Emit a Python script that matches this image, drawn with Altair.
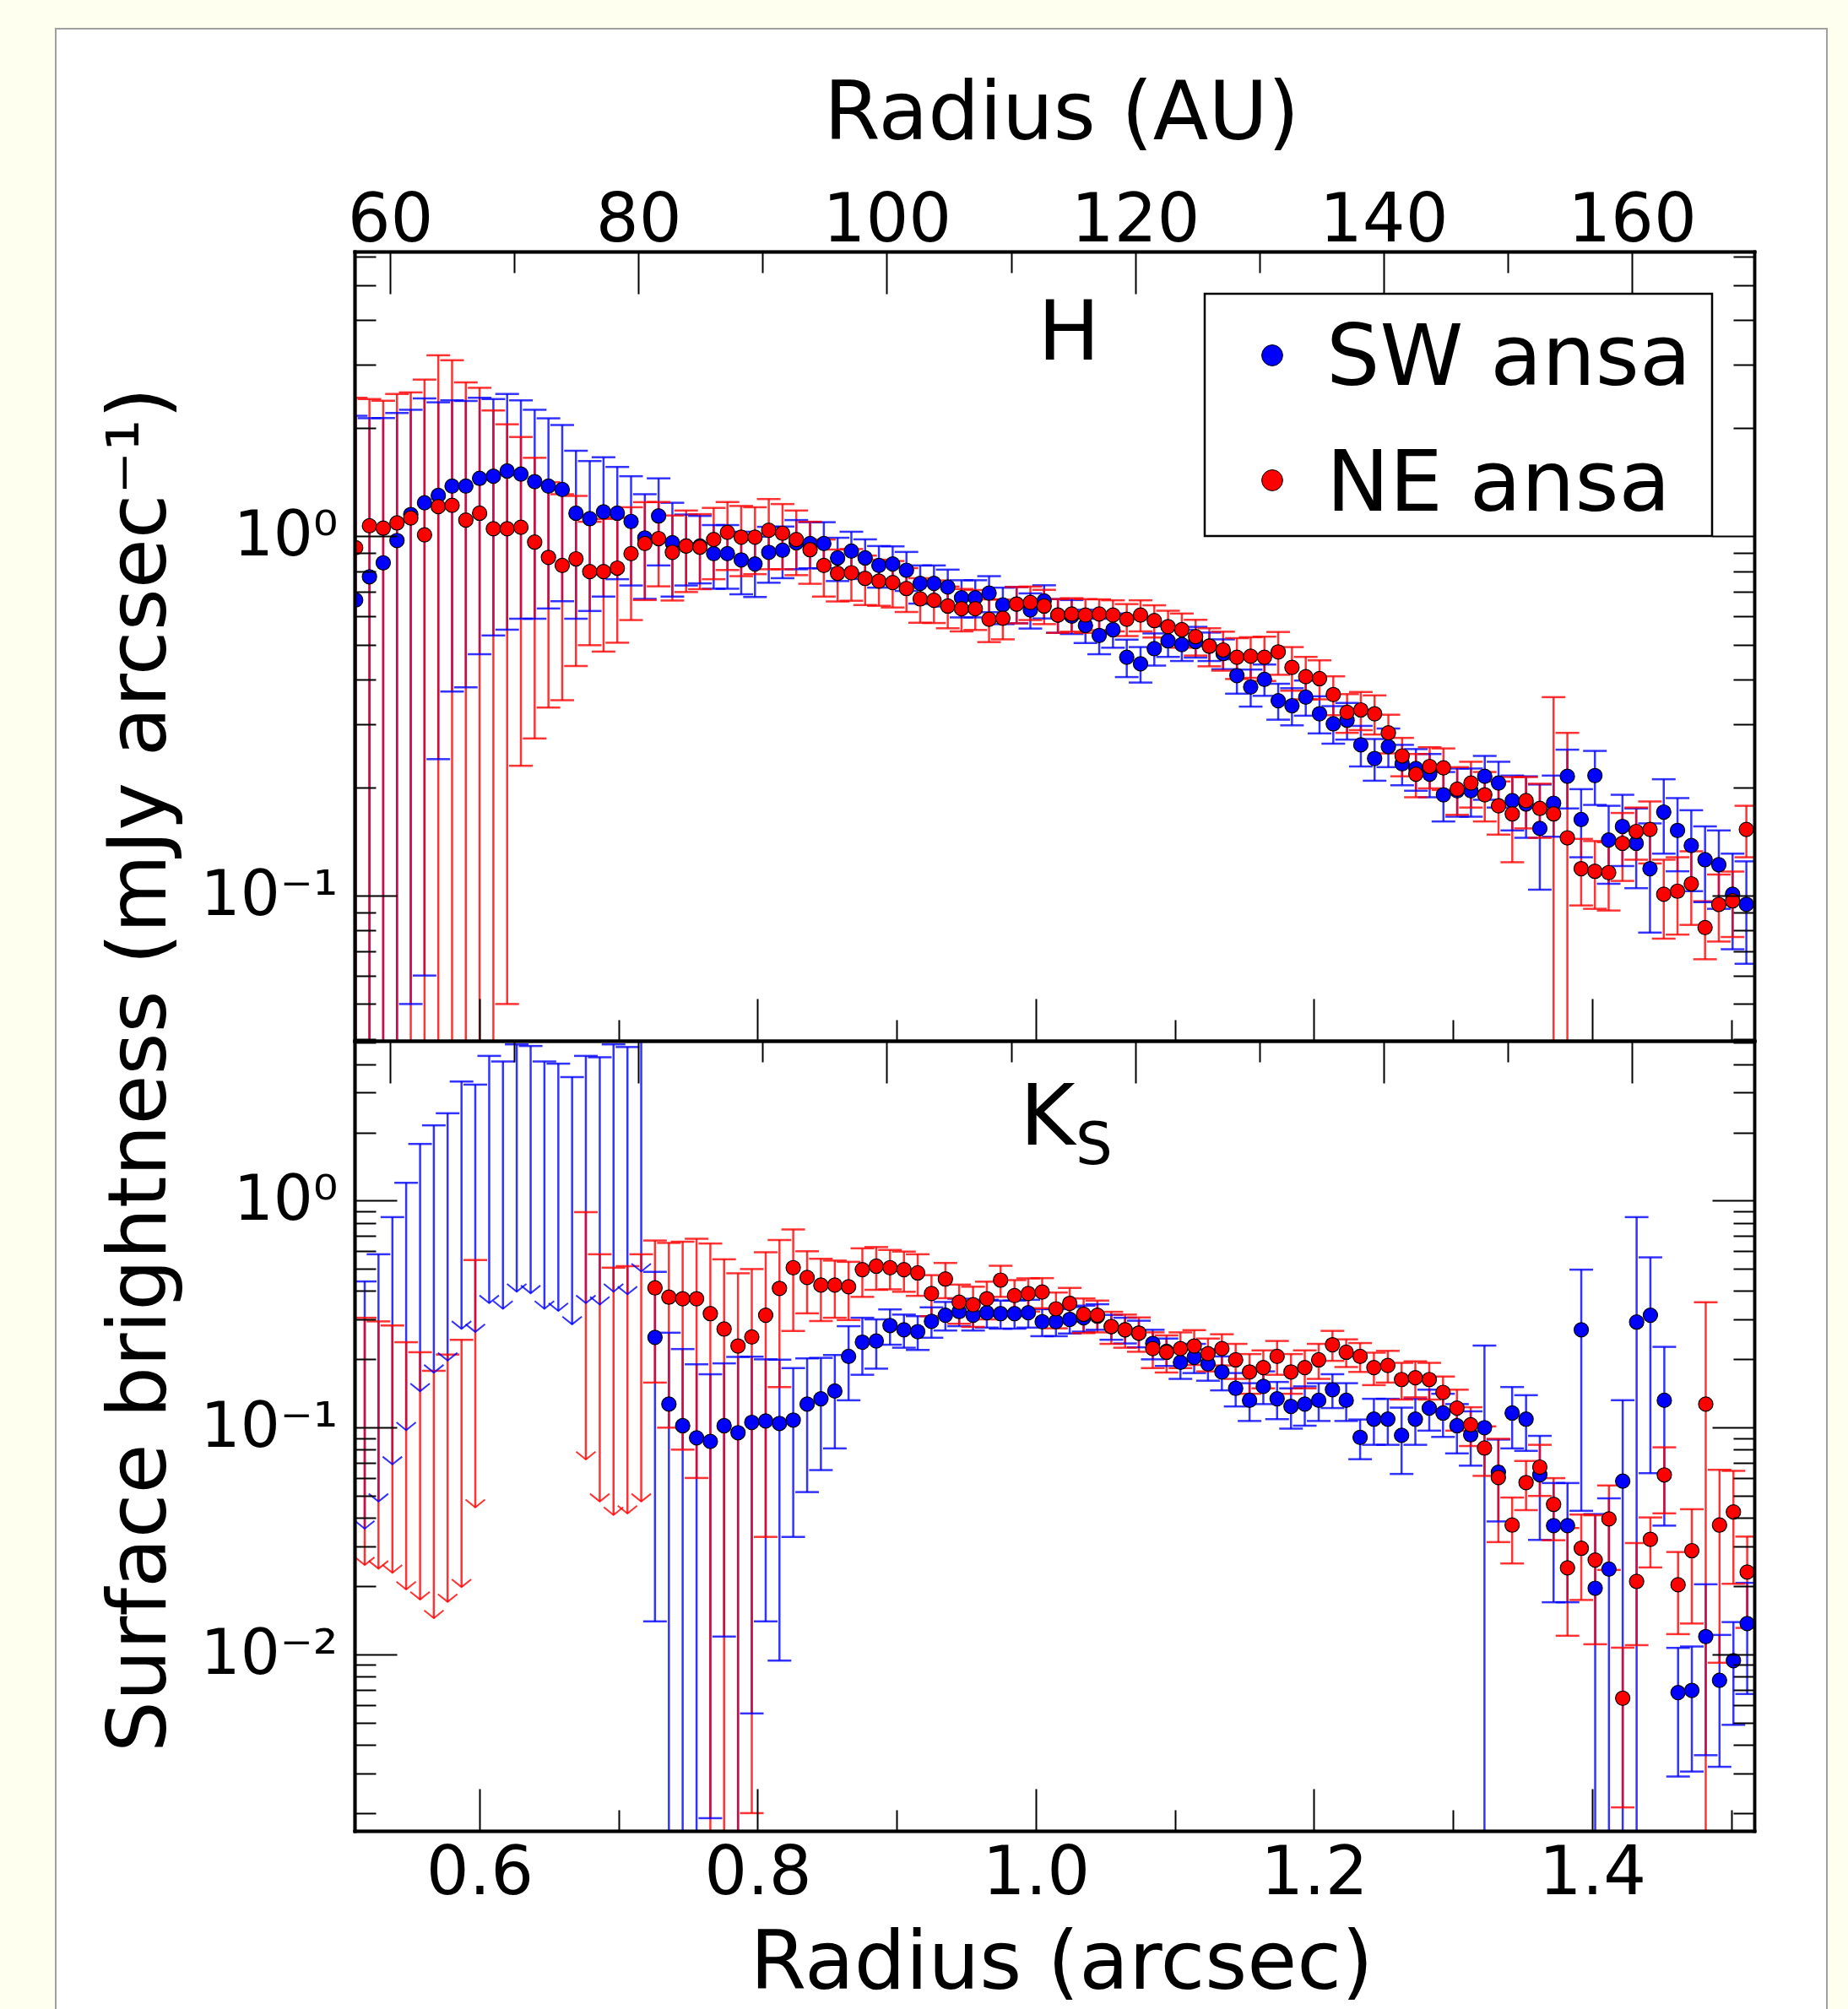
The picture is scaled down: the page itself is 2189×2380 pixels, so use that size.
import altair as alt
import pandas as pd

AU_PER_ARCSEC = 112.0

# ---------------- data ----------------
H_R = [0.5110, 0.5209, 0.5308, 0.5407, 0.5506, 0.5605, 0.5704, 0.5803, 0.5902, 0.6001,
       0.6100, 0.6199, 0.6298, 0.6397, 0.6496, 0.6595, 0.6694, 0.6793, 0.6892, 0.6991,
       0.7090, 0.7189, 0.7288, 0.7387, 0.7486, 0.7585, 0.7684, 0.7783, 0.7882, 0.7981,
       0.8080, 0.8179, 0.8278, 0.8377, 0.8476, 0.8575, 0.8674, 0.8773, 0.8872, 0.8971,
       0.9070, 0.9169, 0.9268, 0.9367, 0.9466, 0.9565, 0.9664, 0.9763, 0.9862, 0.9961,
       1.0060, 1.0159, 1.0258, 1.0357, 1.0456, 1.0555, 1.0654, 1.0753, 1.0852, 1.0951,
       1.1050, 1.1149, 1.1248, 1.1347, 1.1446, 1.1545, 1.1644, 1.1743, 1.1842, 1.1941,
       1.2040, 1.2139, 1.2238, 1.2337, 1.2436, 1.2535, 1.2634, 1.2733, 1.2832, 1.2931,
       1.3030, 1.3129, 1.3228, 1.3327, 1.3426, 1.3525, 1.3624, 1.3723, 1.3822, 1.3921,
       1.4020, 1.4119, 1.4218, 1.4317, 1.4416, 1.4515, 1.4614, 1.4713, 1.4812, 1.4911,
       1.5010, 1.5109]

H_SW = [0.665, 0.772, 0.844, 0.974, 1.15, 1.24, 1.30, 1.38, 1.38, 1.45,
        1.47, 1.52, 1.49, 1.42, 1.38, 1.35, 1.16, 1.12, 1.17, 1.16,
        1.10, 0.99, 1.14, 0.96, 0.94, 0.94, 0.895, 0.895, 0.86, 0.838,
        0.903, 0.915, 0.96, 0.955, 0.955, 0.871, 0.91, 0.871, 0.83, 0.838,
        0.805, 0.74, 0.74, 0.723, 0.675, 0.675, 0.695, 0.645, 0.648, 0.624,
        0.661, 0.604, 0.600, 0.565, 0.53, 0.55, 0.461, 0.442, 0.487, 0.512,
        0.50, 0.51, 0.495, 0.472, 0.41, 0.381, 0.40, 0.349, 0.338, 0.357,
        0.321, 0.301, 0.308, 0.263, 0.241, 0.26, 0.233, 0.226, 0.218, 0.191,
        0.196, 0.196, 0.215, 0.206, 0.184, 0.18, 0.154, 0.181, 0.215, 0.163,
        0.216, 0.143, 0.156, 0.140, 0.119, 0.171, 0.152, 0.138, 0.126, 0.122,
        0.101, 0.0947]
H_SW_ERR = [1.5, 1.36, 1.29, 1.23, 1.10, 1.18, 1.06, 1.01, 1.0, 0.98,
            0.94, 0.97, 0.90, 0.83, 0.75, 0.69, 0.57, 0.50, 0.49, 0.40,
            0.37, 0.32, 0.31, 0.28, 0.21, 0.20, 0.18, 0.18, 0.17, 0.16,
            0.16, 0.15, 0.15, 0.14, 0.14, 0.12, 0.12, 0.11, 0.11, 0.10,
            0.10, 0.09, 0.09, 0.085, 0.08, 0.08, 0.08, 0.075, 0.075, 0.07,
            0.07, 0.065, 0.065, 0.06, 0.06, 0.06, 0.055, 0.05, 0.05, 0.05,
            0.05, 0.05, 0.045, 0.045, 0.045, 0.045, 0.04, 0.04, 0.04, 0.04,
            0.038, 0.036, 0.036, 0.034, 0.032, 0.032, 0.03, 0.03, 0.03, 0.03,
            0.03, 0.03, 0.03, 0.03, 0.032, 0.035, 0.05, 0.035, 0.04, 0.035,
            0.037, 0.035, 0.035, 0.035, 0.04, 0.04, 0.035, 0.035, 0.03, 0.03,
            0.03, 0.03]

H_NE = [0.93, 1.07, 1.054, 1.09, 1.125, 1.01, 1.21, 1.22, 1.11, 1.16,
        1.05, 1.05, 1.06, 0.964, 0.874, 0.83, 0.866, 0.798, 0.798, 0.816,
        0.895, 0.955, 0.986, 0.903, 0.94, 0.933, 0.98, 1.026, 0.995, 0.995,
        1.04, 1.02, 0.98, 0.918, 0.83, 0.789, 0.792, 0.764, 0.751, 0.744,
        0.716, 0.670, 0.664, 0.640, 0.629, 0.629, 0.588, 0.592, 0.648, 0.655,
        0.640, 0.604, 0.608, 0.604, 0.608, 0.604, 0.588, 0.604, 0.583, 0.561,
        0.55, 0.526, 0.495, 0.483, 0.461, 0.464, 0.461, 0.477, 0.432, 0.407,
        0.402, 0.363, 0.324, 0.329, 0.321, 0.284, 0.245, 0.218, 0.229, 0.227,
        0.198, 0.206, 0.191, 0.178, 0.169, 0.184, 0.175, 0.169, 0.145, 0.119,
        0.117, 0.116, 0.140, 0.151, 0.153, 0.101, 0.103, 0.108, 0.0816, 0.0946,
        0.0968, 0.153]
H_NE_ERR = [1.5, 1.34, 1.33, 1.40, 1.39, 1.72, 1.98, 1.87, 1.57, 1.43,
            1.19, 1.0, 0.83, 0.69, 0.54, 0.48, 0.43, 0.30, 0.32, 0.31,
            0.31, 0.29, 0.26, 0.24, 0.24, 0.22, 0.22, 0.22, 0.22, 0.21,
            0.23, 0.21, 0.20, 0.18, 0.15, 0.13, 0.13, 0.12, 0.11, 0.11,
            0.10, 0.095, 0.09, 0.085, 0.085, 0.08, 0.08, 0.075, 0.075, 0.07,
            0.07, 0.065, 0.065, 0.065, 0.06, 0.06, 0.06, 0.06, 0.06, 0.06,
            0.06, 0.06, 0.06, 0.06, 0.06, 0.06, 0.065, 0.065, 0.06, 0.055,
            0.05, 0.045, 0.04, 0.04, 0.04, 0.035, 0.03, 0.03, 0.03, 0.03,
            0.03, 0.03, 0.03, 0.03, 0.045, 0.03, 0.03, 0.188, 0.139, 0.025,
            0.025, 0.025, 0.03, 0.025, 0.03, 0.025, 0.025, 0.025, 0.015, 0.02,
            0.02, 0.025]

K_R = [0.5175, 0.5274, 0.5374, 0.5473, 0.5573, 0.5672, 0.5771, 0.5871, 0.5970, 0.6070,
       0.6169, 0.6268, 0.6368, 0.6467, 0.6567, 0.6666, 0.6765, 0.6865, 0.6964, 0.7064,
       0.7163, 0.7262, 0.7362, 0.7461, 0.7561, 0.7660, 0.7759, 0.7859, 0.7958, 0.8058,
       0.8157, 0.8256, 0.8356, 0.8455, 0.8555, 0.8654, 0.8753, 0.8853, 0.8952, 0.9052,
       0.9151, 0.9250, 0.9350, 0.9449, 0.9549, 0.9648, 0.9747, 0.9847, 0.9946, 1.0046,
       1.0145, 1.0244, 1.0344, 1.0443, 1.0543, 1.0642, 1.0741, 1.0841, 1.0940, 1.1040,
       1.1139, 1.1238, 1.1338, 1.1437, 1.1537, 1.1636, 1.1735, 1.1835, 1.1934, 1.2034,
       1.2133, 1.2232, 1.2332, 1.2431, 1.2531, 1.2630, 1.2729, 1.2829, 1.2928, 1.3028,
       1.3127, 1.3226, 1.3326, 1.3425, 1.3525, 1.3624, 1.3723, 1.3823, 1.3922, 1.4022,
       1.4121, 1.4220, 1.4320, 1.4419, 1.4519, 1.4618, 1.4717, 1.4817, 1.4916, 1.5016,
       1.5115]

# Ks upper limits (no detection): SW for bins 0-20, NE for bins 0-8 and 16-20
K_SW_LIM = [0.441, 0.581, 0.847, 1.20, 1.78, 2.15, 2.43, 3.35, 3.25, 4.35,
            4.11, 4.89, 4.81, 4.11, 4.02, 3.51, 4.35, 4.29, 4.89, 4.76, 6.0]
K_NE_LIM_A = [0.305, 0.294, 0.282, 0.238, 0.215, 0.178, 0.210, 0.244, 0.548]
K_NE_LIM_B = [0.891, 0.581, 0.507, 0.515, 0.581]

# Ks detections, bins 21-100
K_SW = [0.250, 0.127, 0.102, 0.0902, 0.0869, 0.102, 0.095, 0.1055, 0.107, 0.1044,
        0.108, 0.127, 0.134, 0.145, 0.206, 0.238, 0.241, 0.282, 0.270, 0.265,
        0.294, 0.313, 0.325, 0.313, 0.321, 0.318, 0.318, 0.321, 0.293, 0.293,
        0.300, 0.305, 0.310, 0.279, 0.270, 0.261, 0.235, 0.217, 0.194, 0.204,
        0.191, 0.176, 0.149, 0.132, 0.152, 0.134, 0.124, 0.127, 0.132, 0.147,
        0.132, 0.0906, 0.109, 0.109, 0.0925, 0.109, 0.122, 0.116, 0.102, 0.093,
        0.100, 0.0636, 0.116, 0.109, 0.062, 0.037, 0.037, 0.270, 0.0196, 0.0238,
        0.0581, 0.292, 0.313, 0.132, 0.0068, 0.00695, 0.0120, 0.0077, 0.0094, 0.0137]
K_SW_ERR = [0.236, 0.135, 0.12, 0.10, 0.085, 0.09, 0.11, 0.10, 0.093, 0.095,
            0.075, 0.075, 0.069, 0.064, 0.074, 0.067, 0.059, 0.05, 0.045, 0.045,
            0.045, 0.045, 0.045, 0.045, 0.045, 0.045, 0.045, 0.045, 0.04, 0.04,
            0.04, 0.04, 0.04, 0.035, 0.035, 0.035, 0.035, 0.03, 0.03, 0.03,
            0.03, 0.03, 0.025, 0.025, 0.025, 0.025, 0.025, 0.025, 0.025, 0.025,
            0.025, 0.018, 0.025, 0.025, 0.03, 0.025, 0.025, 0.025, 0.025, 0.025,
            0.13, 0.025, 0.035, 0.03, 0.03, 0.02, 0.02, 0.227, 0.022, 0.025,
            0.074, 0.555, 0.25, 0.095, 0.0039, 0.0039, 0.0084, 0.0045, 0.0045, 0.007]
K_NE = [0.413, 0.376, 0.370, 0.370, 0.318, 0.272, 0.229, 0.251, 0.313, 0.411,
        0.507, 0.459, 0.425, 0.425, 0.418, 0.497, 0.515, 0.507, 0.497, 0.481,
        0.390, 0.452, 0.357, 0.348, 0.370, 0.447, 0.382, 0.390, 0.396, 0.334,
        0.353, 0.316, 0.313, 0.279, 0.270, 0.261, 0.223, 0.215, 0.223, 0.229,
        0.212, 0.223, 0.199, 0.176, 0.184, 0.206, 0.176, 0.184, 0.199, 0.232,
        0.215, 0.206, 0.184, 0.188, 0.163, 0.166, 0.163, 0.143, 0.122, 0.103,
        0.0813, 0.0603, 0.0372, 0.0573, 0.0670, 0.0459, 0.0241, 0.0294, 0.0261, 0.0396,
        0.00642, 0.0210, 0.0322, 0.0619, 0.0203, 0.0287, 0.127, 0.0372, 0.0425, 0.0231]
K_NE_ERR = [0.255, 0.276, 0.29, 0.31, 0.33, 0.28, 0.25, 0.249, 0.28, 0.26,
            0.24, 0.14, 0.13, 0.12, 0.12, 0.12, 0.11, 0.10, 0.10, 0.10,
            0.08, 0.08, 0.07, 0.07, 0.07, 0.07, 0.065, 0.065, 0.06, 0.06,
            0.06, 0.055, 0.05, 0.045, 0.045, 0.045, 0.04, 0.04, 0.04, 0.04,
            0.035, 0.035, 0.035, 0.035, 0.035, 0.035, 0.035, 0.035, 0.035, 0.035,
            0.03, 0.03, 0.03, 0.03, 0.03, 0.03, 0.03, 0.025, 0.025, 0.02,
            0.02, 0.029, 0.012, 0.014, 0.017, 0.014, 0.012, 0.012, 0.015, 0.016,
            0.0043, 0.01, 0.008, 0.02, 0.008, 0.015, 0.23, 0.028, 0.022, 0.01]

SERIES = ["SW ansa", "NE ansa"]
COLORS = ["#0000ff", "#ff0000"]
AU_MAJOR = [60, 80, 100, 120, 140, 160]
AU_MINOR = [70, 90, 110, 130, 150]
AS_MAJOR = [0.6, 0.8, 1.0, 1.2, 1.4]
AS_MINOR = [0.7, 0.9, 1.1, 1.3, 1.5]

# ---------------- layout / style ----------------
X_DOMAIN = [0.5102, 1.5166]
YDOM_H = [0.0395, 6.2]
YDOM_K = [0.00167, 5.07]
W = 1658
HT = 935
HB = 936
ARROW = 12.3
FLOOR = 1e-6
FONT = "DejaVu Sans"

xs = alt.Scale(domain=X_DOMAIN, nice=False, zero=False)
col = alt.Scale(domain=SERIES, range=COLORS)
one = pd.DataFrame({"k": [0]})


def det_frame(r, v, e, s):
    df = pd.DataFrame({"r": r, "v": v, "e": e})
    df["hi"] = df["v"] + df["e"]
    df["lo"] = df["v"] - df["e"]
    df["lo_draw"] = df["lo"].clip(lower=FLOOR)
    df["series"] = s
    return df


def lim_frame(r, lim, s):
    df = pd.DataFrame({"r": r, "lim": lim})
    df["tip"] = df["lim"] / ARROW
    df["series"] = s
    return df


def txt(text, x, y, size, align="left"):
    return alt.Chart(one).mark_text(
        text=text, fontSize=size, font=FONT, align=align,
        baseline="alphabetic", color="black"
    ).encode(x=alt.value(x), y=alt.value(y))


def minor_vals(dom):
    out = []
    for p in range(-3, 1):
        for m in range(2, 10):
            v = round(m * 10.0 ** p, 6)
            if dom[0] <= v <= dom[1]:
                out.append(v)
    return out


def y_label_expr():
    return ("datum.value > 0.5 ? '10\u2070' : "
            "(datum.value > 0.05 ? '10\u207b\u00b9' : '10\u207b\u00b2')")


BASE_AX = dict(grid=False, domain=True, domainColor="black", domainWidth=3.5,
               domainCap="square", zindex=3)


def tick_ax(orient, offset, values, size):
    return alt.Axis(orient=orient, offset=offset, values=values, tickSize=size,
                    tickWidth=2, tickColor="black", ticks=True, labels=False,
                    title=None, **BASE_AX)


def panel(det, lim, ydom, height, top, extras):
    ys = alt.Scale(type="log", domain=ydom, nice=False)
    ex = alt.X("r:Q", scale=xs, axis=None)
    color = alt.Color("series:N", scale=col, legend=None)
    layers = []
    if top:
        layers.append(alt.Chart(one).mark_rect(fill="white", stroke="#a0a0a0", strokeWidth=2).encode(
            x=alt.value(-354), x2=alt.value(1744), y=alt.value(-264), y2=alt.value(2083)))

    layers.append(alt.Chart(det).mark_rule(strokeWidth=2.5, opacity=0.8, clip=True).encode(
        x=ex, y=alt.Y("hi:Q", scale=ys, axis=None), y2="lo_draw:Q", color=color))
    layers.append(alt.Chart(det[det["hi"] <= ydom[1]]).mark_tick(
        orient="horizontal", size=28, thickness=2.5, opacity=0.8, clip=True).encode(
        x=ex, y=alt.Y("hi:Q", scale=ys, axis=None), color=color))
    layers.append(alt.Chart(det[det["lo"] >= ydom[0]]).mark_tick(
        orient="horizontal", size=28, thickness=2.5, opacity=0.8, clip=True).encode(
        x=ex, y=alt.Y("lo:Q", scale=ys, axis=None), color=color))
    if lim is not None:
        layers.append(alt.Chart(lim).mark_rule(strokeWidth=2.5, opacity=0.8, clip=True).encode(
            x=ex, y=alt.Y("lim:Q", scale=ys, axis=None), y2="tip:Q", color=color))
        layers.append(alt.Chart(lim[lim["lim"] <= ydom[1]]).mark_tick(
            orient="horizontal", size=28, thickness=2.5, opacity=0.8, clip=True).encode(
            x=ex, y=alt.Y("lim:Q", scale=ys, axis=None), color=color))
        layers.append(alt.Chart(lim).mark_point(
            shape="M-1,-0.8L0,0L1,-0.8", filled=False, size=529, strokeWidth=2,
            opacity=0.8, clip=True).encode(
            x=ex, y=alt.Y("tip:Q", scale=ys, axis=None), color=color))
    layers.append(alt.Chart(det).mark_point(
        filled=True, shape="circle", size=290, stroke="black", strokeWidth=1.2,
        opacity=1, clip=True).encode(
        x=ex, y=alt.Y("v:Q", scale=ys, axis=None),
        fill=alt.Fill("series:N", scale=col, legend=None)))

    # axes
    carrier = pd.DataFrame({"cx": [1.0], "cy": [1.0]})
    au_major = [a / AU_PER_ARCSEC for a in AU_MAJOR]
    au_minor = [a / AU_PER_ARCSEC for a in AU_MINOR]
    y_major = [v for v in [0.01, 0.1, 1.0] if ydom[0] <= v <= ydom[1]]
    y_minor = minor_vals(ydom)

    if top:
        x_lab = alt.Axis(orient="top", values=au_major,
                         labelExpr="format(datum.value * %g, '.0f')" % AU_PER_ARCSEC,
                         ticks=False, tickSize=0, labels=True, labelFontSize=80,
                         labelPadding=13, labelBaseline="alphabetic", labelFlush=False,
                         labelOverlap=False, labelColor="black", labelFont=FONT,
                         title="Radius (AU)", titleFontSize=96, titleFontWeight="normal",
                         titleFont=FONT, titleColor="black", titleX=837, titleY=-134,
                         titleBaseline="alphabetic", titleAlign="center", **BASE_AX)
        y_lab = alt.Axis(orient="left", values=y_major, labelExpr=y_label_expr(),
                         ticks=False, tickSize=0, labels=True, labelFontSize=74,
                         labelPadding=20, labelFlush=False, labelOverlap=False,
                         labelColor="black", labelFont=FONT,
                         title="Surface brightness (mJy arcsec\u207b\u00b9)",
                         titleFontSize=96, titleFontWeight="normal", titleFont=FONT,
                         titleColor="black", titleAngle=270, titleX=-225, titleY=969,
                         titleBaseline="alphabetic", titleAlign="center", **BASE_AX)
    else:
        x_lab = alt.Axis(orient="bottom", values=AS_MAJOR, format=".1f",
                         ticks=False, tickSize=0, labels=True, labelFontSize=80,
                         labelPadding=74, labelBaseline="alphabetic", labelFlush=False,
                         labelOverlap=False, labelColor="black", labelFont=FONT,
                         title="Radius (arcsec)", titleFontSize=96, titleFontWeight="normal",
                         titleFont=FONT, titleColor="black", titleX=837, titleY=186,
                         titleBaseline="alphabetic", titleAlign="center", **BASE_AX)
        y_lab = alt.Axis(orient="left", values=y_major, labelExpr=y_label_expr(),
                         ticks=False, tickSize=0, labels=True, labelFontSize=74,
                         labelPadding=20, labelFlush=False, labelOverlap=False,
                         labelColor="black", labelFont=FONT, title=None, **BASE_AX)

    axis_pairs = [
        (x_lab, y_lab),
        (tick_ax("bottom", -height, au_major, 50), tick_ax("right", -W, y_major, 50)),
        (tick_ax("bottom", -height, au_minor, 25), tick_ax("right", -W, y_minor, 25)),
        (tick_ax("top", -height, AS_MAJOR, 50), tick_ax("left", -W, y_major, 50)),
        (tick_ax("top", -height, AS_MINOR, 25), tick_ax("left", -W, y_minor, 25)),
    ]
    for xa, ya in axis_pairs:
        layers.append(alt.Chart(carrier).mark_point(opacity=0).encode(
            x=alt.X("cx:Q", scale=xs, axis=xa),
            y=alt.Y("cy:Q", scale=ys, axis=ya)))

    layers += extras
    return alt.layer(*layers).resolve_axis(x="independent", y="independent").properties(
        width=W, height=height)


# ---------------- frames ----------------
h_det = pd.concat([det_frame(H_R, H_SW, H_SW_ERR, SERIES[0]),
                   det_frame(H_R, H_NE, H_NE_ERR, SERIES[1])], ignore_index=True)
k_det = pd.concat([det_frame(K_R[21:], K_SW, K_SW_ERR, SERIES[0]),
                   det_frame(K_R[21:], K_NE, K_NE_ERR, SERIES[1])], ignore_index=True)
k_lim = pd.concat([lim_frame(K_R[0:21], K_SW_LIM, SERIES[0]),
                   lim_frame(K_R[0:9] + K_R[16:21], K_NE_LIM_A + K_NE_LIM_B, SERIES[1])],
                  ignore_index=True)

legend_layers = [
    alt.Chart(one).mark_rect(fill="white", stroke="black", strokeWidth=2.5).encode(
        x=alt.value(1007), x2=alt.value(1608), y=alt.value(50), y2=alt.value(337)),
    alt.Chart(one).mark_point(filled=True, size=615, color=COLORS[0], stroke="black",
                              strokeWidth=1, opacity=1).encode(x=alt.value(1087), y=alt.value(123)),
    alt.Chart(one).mark_point(filled=True, size=615, color=COLORS[1], stroke="black",
                              strokeWidth=1, opacity=1).encode(x=alt.value(1087), y=alt.value(271)),
    txt(SERIES[0], 1151, 158, 100),
    txt(SERIES[1], 1151, 307, 100),
    txt("H", 846, 128, 98, align="center"),
]

k_labels = [
    txt("K", 788, 123, 100),
    txt("S", 854, 146, 69),
]

top = panel(h_det, None, YDOM_H, HT, True, legend_layers)
bottom = panel(k_det, k_lim, YDOM_K, HB, False, k_labels)

chart = alt.vconcat(top, bottom, spacing=0, bounds="flush").properties(
    background="#FFFFF0",
    padding={"left": 65, "top": 33, "right": 24, "bottom": 0},
).configure_view(strokeWidth=0)

chart.save("out.html", embed_options={"renderer": "svg", "actions": False})
